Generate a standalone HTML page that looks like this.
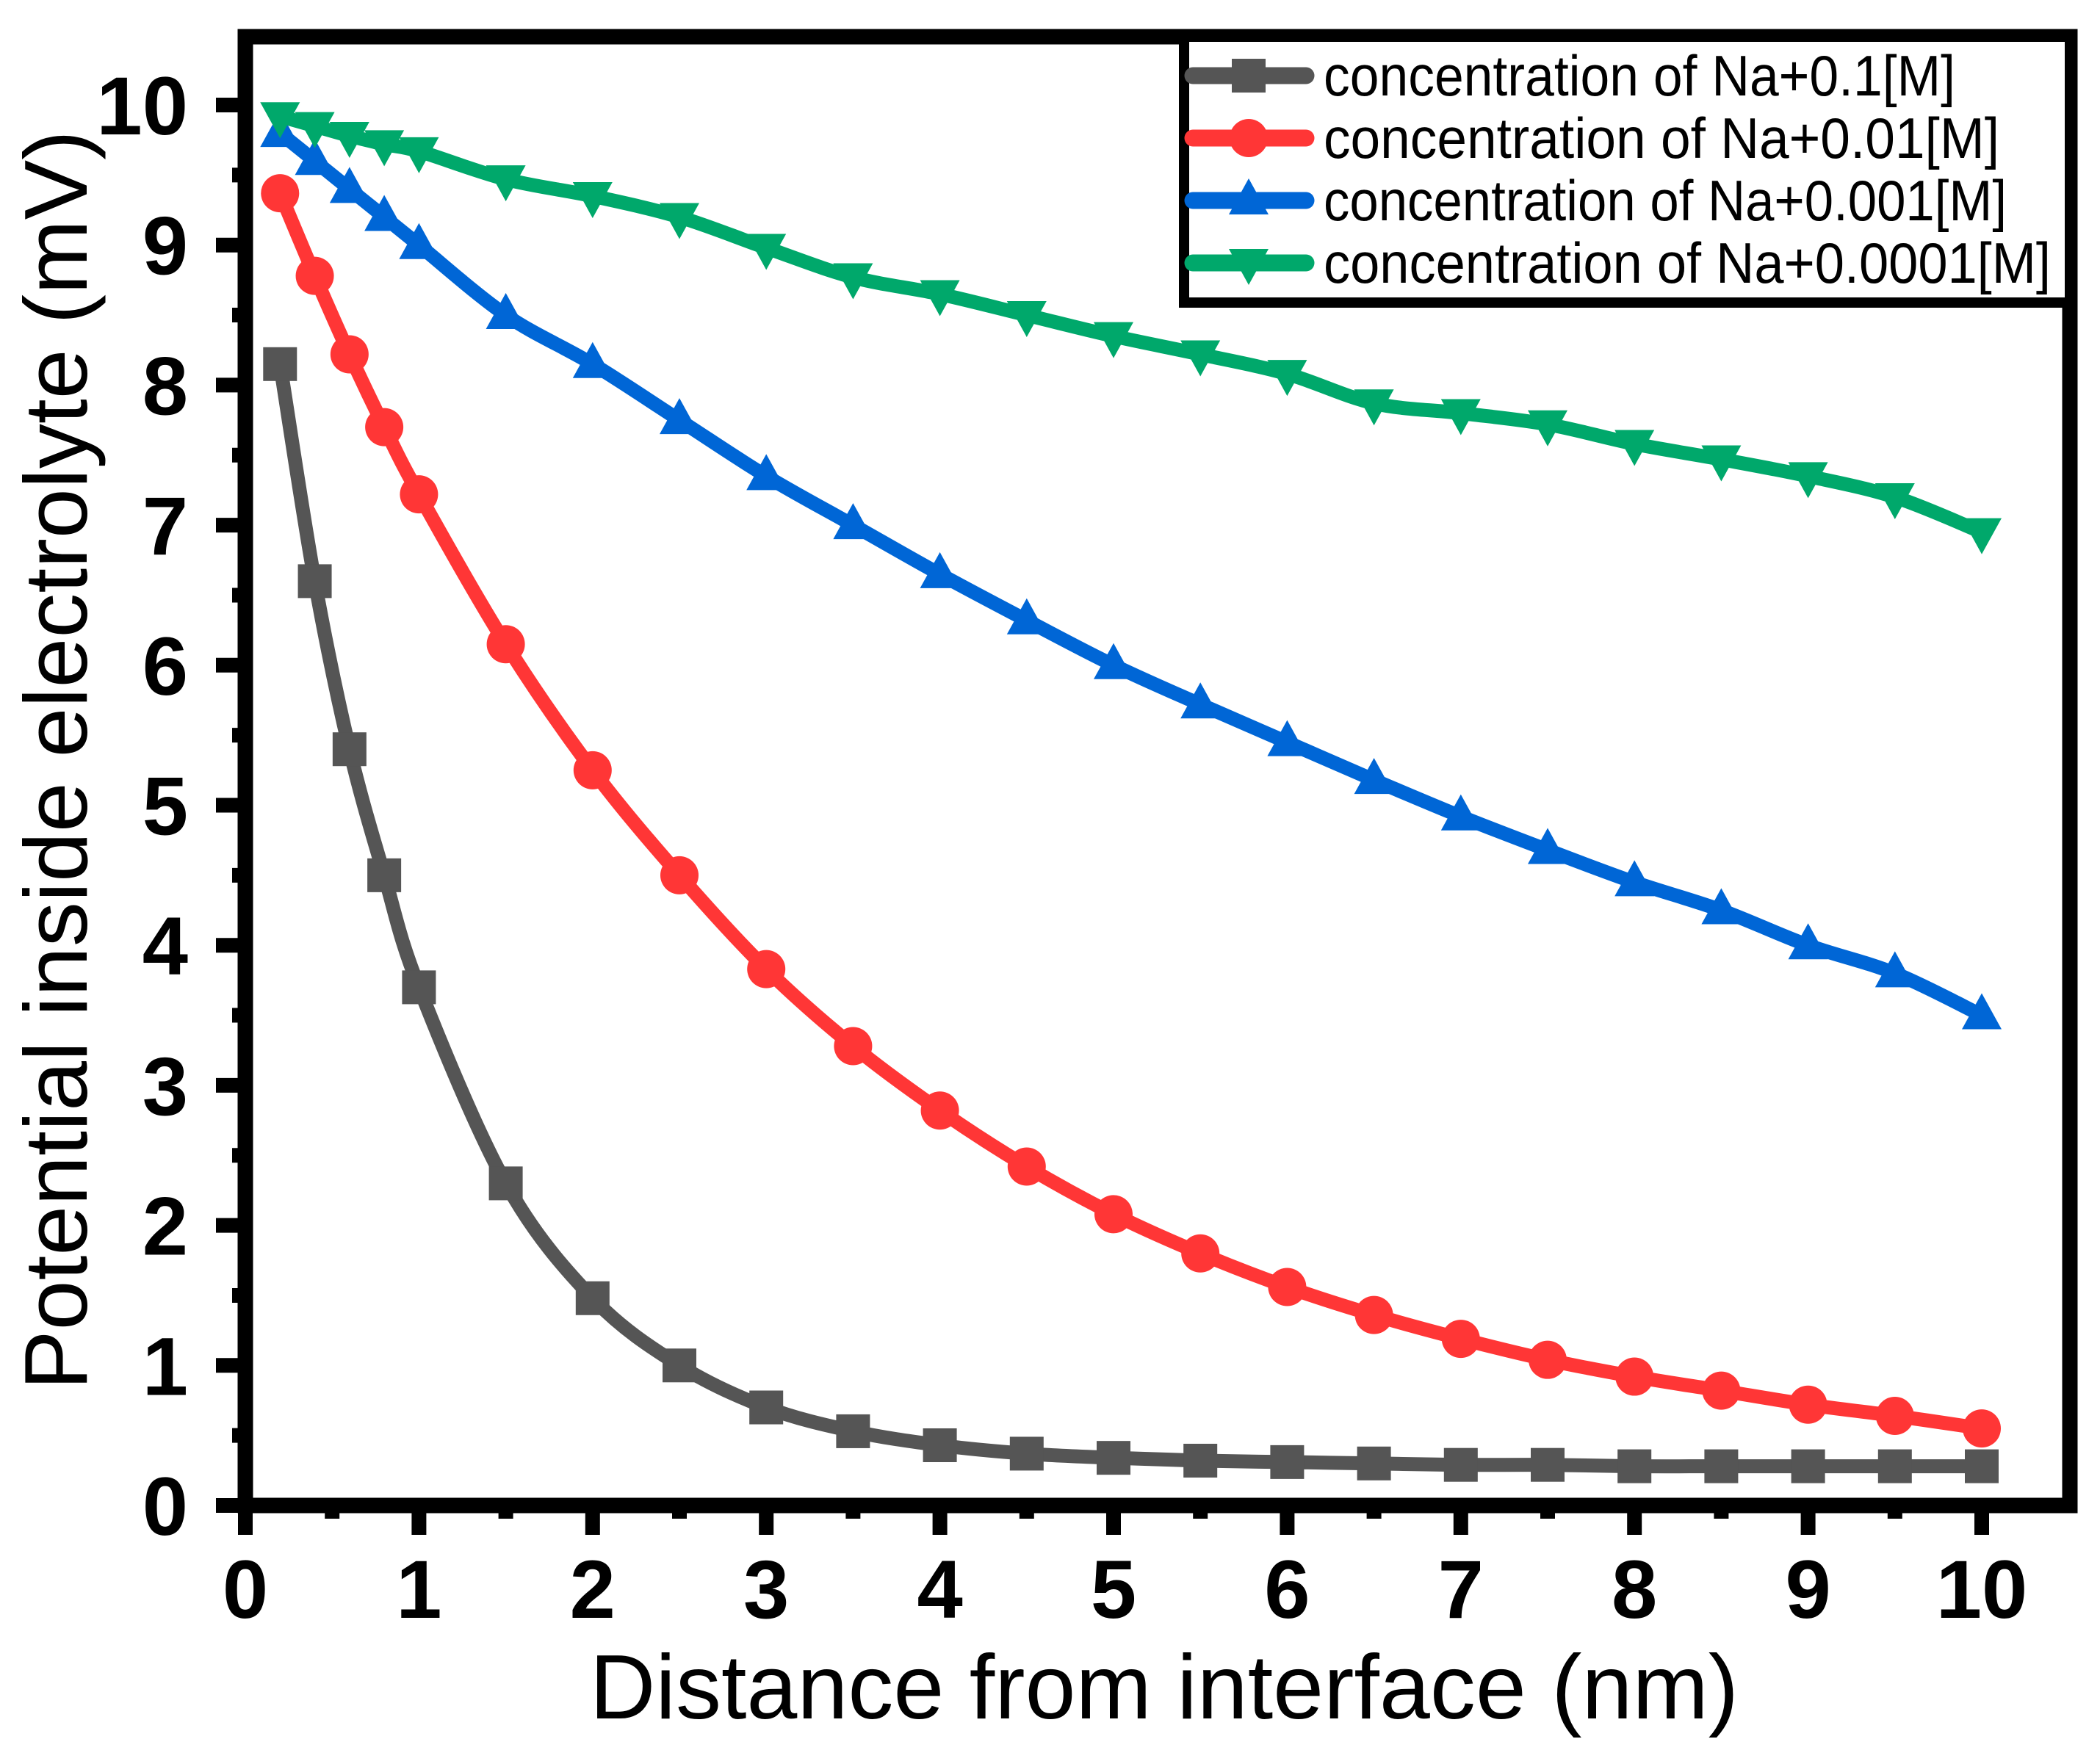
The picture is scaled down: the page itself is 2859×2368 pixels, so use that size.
<!DOCTYPE html>
<html><head><meta charset="utf-8"><style>
html,body{margin:0;padding:0;background:#fff;}
svg{display:block;font-family:"Liberation Sans",Arial,sans-serif;}
</style></head><body>
<svg id="chart" width="2859" height="2368" viewBox="0 0 2859 2368" xmlns="http://www.w3.org/2000/svg">
<g id="grid"></g>
<g id="series"></g>
<g id="axes"></g>
<g id="legend"></g>
</svg>
<script>
const xValues = [0.2,0.4,0.6,0.8,1,1.5,2,2.5,3,3.5,4,4.5,5,5.5,6,6.5,7,7.5,8,8.5,9,9.5,10];
const na01 = [8.15,6.6,5.4,4.5,3.7,2.3,1.48,1.0,0.7,0.53,0.43,0.37,0.34,0.32,0.31,0.3,0.29,0.29,0.28,0.28,0.28,0.28,0.28];
const na001 = [9.37,8.78,8.22,7.7,7.22,6.15,5.25,4.5,3.83,3.28,2.82,2.42,2.08,1.8,1.56,1.36,1.19,1.04,0.92,0.82,0.72,0.64,0.55];
const na0001 = [9.8,9.6,9.4,9.2,9.0,8.5,8.15,7.75,7.35,7.0,6.65,6.32,6.0,5.72,5.45,5.18,4.92,4.68,4.45,4.25,4.0,3.8,3.5];
const na00001 = [9.92,9.85,9.78,9.72,9.67,9.47,9.35,9.2,8.98,8.77,8.65,8.5,8.35,8.22,8.08,7.87,7.8,7.72,7.58,7.47,7.35,7.2,6.95];
const xTicks = [0,1,2,3,4,5,6,7,8,9,10];
const yTicks = [0,1,2,3,4,5,6,7,8,9,10];
const seriesNames = ["concentration of Na+0.1[M]","concentration  of Na+0.01[M]","concentration of Na+0.001[M]","concentration  of Na+0.0001[M]"];

const NS="http://www.w3.org/2000/svg";
const L=334,R=2818,T=50,B=2050;
const X0=334,XS=236.4,Y0=2050,YS=190.7;
const sx=v=>X0+v*XS, sy=v=>Y0-v*YS;
function el(tag,attrs,parent){const e=document.createElementNS(NS,tag);for(const k in attrs)e.setAttribute(k,attrs[k]);parent.appendChild(e);return e;}
const gS=document.getElementById('series'),gA=document.getElementById('axes'),gL=document.getElementById('legend');

function smoothPath(pts){
  let d=`M${pts[0][0]},${pts[0][1]}`;
  for(let i=0;i<pts.length-1;i++){
    const p0=pts[i-1]||pts[i],p1=pts[i],p2=pts[i+1],p3=pts[i+2]||p2;
    const c1=[p1[0]+(p2[0]-p0[0])/6,p1[1]+(p2[1]-p0[1])/6];
    const c2=[p2[0]-(p3[0]-p1[0])/6,p2[1]-(p3[1]-p1[1])/6];
    d+=` C${c1[0]},${c1[1]} ${c2[0]},${c2[1]} ${p2[0]},${p2[1]}`;
  }
  return d;
}
function marker(type,cx,cy,color,parent){
  let m;
  if(type==='square'){m=el('rect',{x:cx-23,y:cy-23,width:46,height:46,fill:color},parent);}
  else if(type==='circle'){m=el('circle',{cx:cx,cy:cy,r:26,fill:color},parent);}
  else if(type==='up'){m=el('polygon',{points:`${cx},${cy-30} ${cx+27},${cy+19} ${cx-27},${cy+19}`,fill:color},parent);}
  else {m=el('polygon',{points:`${cx},${cy+30} ${cx+27},${cy-19} ${cx-27},${cy-19}`,fill:color},parent);}
  return m;
}
const defs=[
  {vals:na01,color:'#555555',m:'square',name:'series-na-0.1'},
  {vals:na001,color:'#ff3636',m:'circle',name:'series-na-0.01'},
  {vals:na0001,color:'#0066d6',m:'up',name:'series-na-0.001'},
  {vals:na00001,color:'#00a86b',m:'down',name:'series-na-0.0001'}
];
defs.forEach((s,si)=>{
  const g=el('g',{},gS);
  
  
  const pts=xValues.map((x,i)=>[sx(x),sy(s.vals[i])]);
  const p=el('path',{d:smoothPath(pts),fill:'none',stroke:s.color,'stroke-width':19,'stroke-linejoin':'round','stroke-linecap':'round'},g);
  
  
  pts.forEach(pt=>{
    const m=marker(s.m,pt[0],pt[1],s.color,g);
    
    
  });
});

const frame=el('rect',{x:L,y:T,width:R-L,height:B-T,fill:'none',stroke:'#000','stroke-width':21},gA);


xTicks.forEach(v=>{
  const t=el('line',{x1:sx(v),y1:B,x2:sx(v),y2:B+40,stroke:'#000','stroke-width':20},gA);
  
  
  if(v<10){const mt=el('line',{x1:sx(v+0.5),y1:B,x2:sx(v+0.5),y2:B+18,stroke:'#000','stroke-width':20},gA);
  
  }
  const tx=el('text',{x:sx(v),y:2203,'font-size':112,'font-weight':'bold','text-anchor':'middle'},gA);
  tx.textContent=v;
  
  
});
yTicks.forEach(v=>{
  const t=el('line',{x1:L,y1:sy(v),x2:L-40,y2:sy(v),stroke:'#000','stroke-width':20},gA);
  
  
  if(v<10){const mt=el('line',{x1:L,y1:sy(v+0.5),x2:L-18,y2:sy(v+0.5),stroke:'#000','stroke-width':20},gA);
  
  }
  const tx=el('text',{x:256,y:sy(v)+40,'font-size':112,'font-weight':'bold','text-anchor':'end'},gA);
  tx.textContent=v;
  
  
});
const xt=el('text',{x:1585,y:2340,'font-size':124,'text-anchor':'middle'},gA);
xt.textContent='Distance from interface (nm)';


const yt=el('text',{x:0,y:0,'font-size':122,'text-anchor':'middle',transform:'translate(118,1035) rotate(-90)'},gA);
yt.textContent='Potential inside electrolyte (mV)';



const lb=el('rect',{x:1612,y:50,width:1206,height:362,fill:'#fff',stroke:'#000','stroke-width':14},gL);


const textW=[860,920,930,990];
defs.forEach((s,i)=>{
  const cy=103+i*85;
  const g=el('g',{},gL);
  
  
  el('line',{x1:1624,y1:cy,x2:1778,y2:cy,stroke:s.color,'stroke-width':23,'stroke-linecap':'round'},g);
  marker(s.m,1700,cy,s.color,g);
  const t=el('text',{x:1802,y:cy+27,'font-size':78,textLength:textW[i],lengthAdjust:'spacingAndGlyphs'},g);
  t.textContent=seriesNames[i];
});
</script>
</body></html>
